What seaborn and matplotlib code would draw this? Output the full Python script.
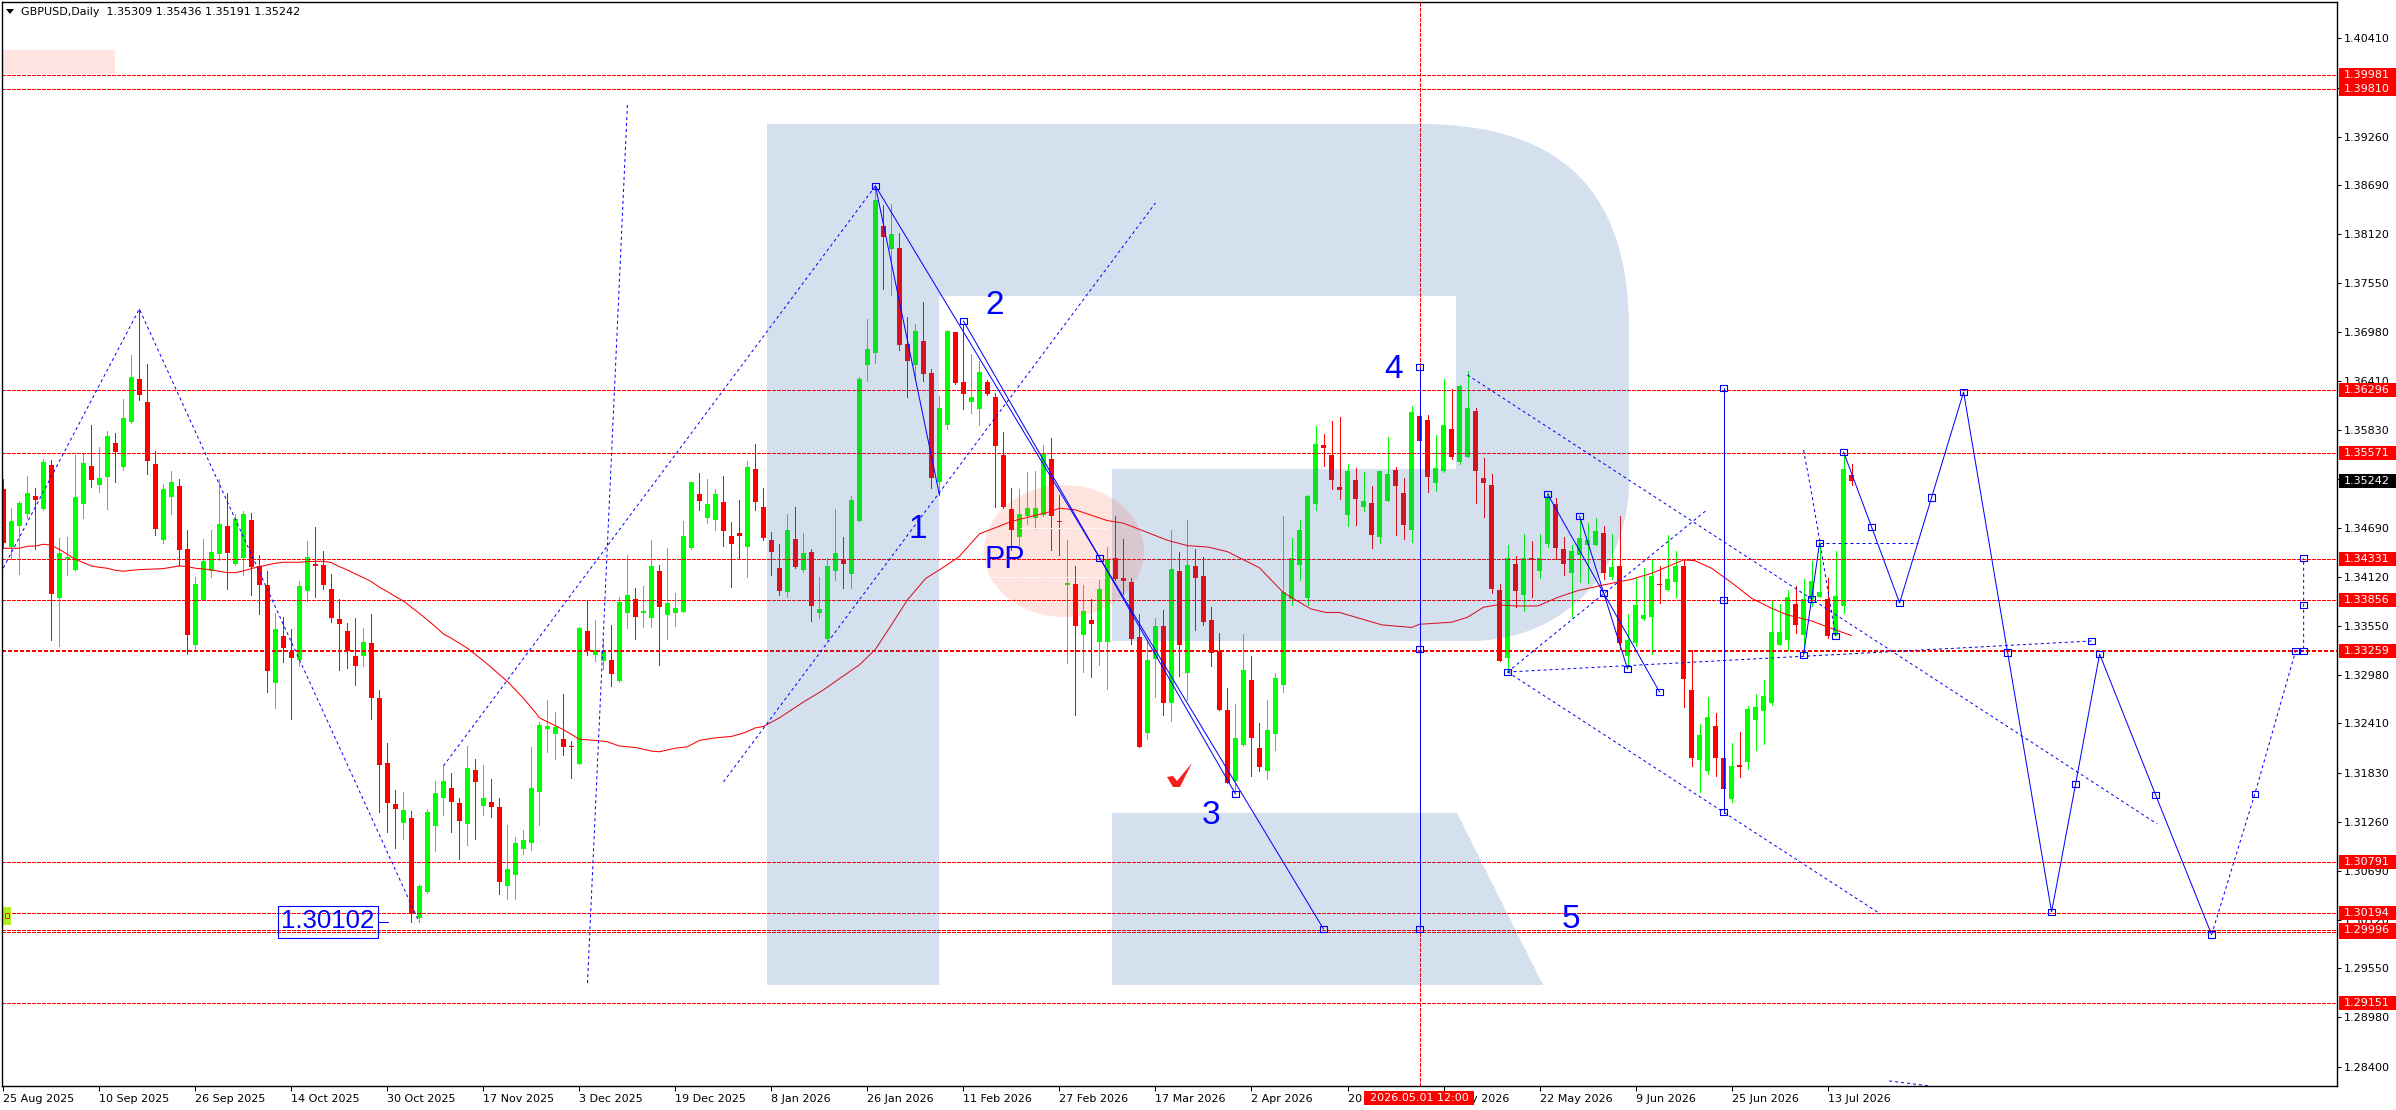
"""
GBPUSD daily chart with levels and forecast wave paths.
"""

import matplotlib
matplotlib.use("Agg")
import matplotlib.pyplot as plt
import numpy as np
import pandas as pd
import seaborn as sns
from matplotlib.patches import Ellipse, PathPatch, Polygon, Rectangle
from matplotlib.path import Path
from matplotlib.transforms import Affine2D

opens = [
    1.35146, 1.34473, 1.34715, 1.34855, 1.35065, 1.34913, 1.35426, 1.33874, 1.34329, 1.34201,
    1.34971, 1.35415, 1.35193, 1.35286, 1.35683, 1.35403, 1.35932, 1.36428, 1.36161, 1.35438,
    1.34551, 1.35053, 1.35181, 1.34446, 1.33326, 1.33851, 1.34189, 1.34388, 1.34715, 1.34271,
    1.34341, 1.34785, 1.34248, 1.34026, 1.32882, 1.33431, 1.33248, 1.33151, 1.33956, 1.34271,
    1.34259, 1.33979, 1.33629, 1.33489, 1.33197, 1.33197, 1.33349, 1.32707, 1.31949, 1.31470,
    1.31249, 1.31307, 1.30133, 1.30443, 1.31214, 1.31540, 1.31657, 1.31482, 1.31237, 1.31862,
    1.31446, 1.31491, 1.31433, 1.30512, 1.30645, 1.30950, 1.31016, 1.31608, 1.32350, 1.32292,
    1.32229, 1.32146, 1.31942, 1.33490, 1.33210, 1.33140, 1.33151, 1.32906, 1.33700, 1.33863,
    1.33700, 1.33642, 1.34190, 1.33677, 1.33700, 1.33712, 1.34458, 1.35089, 1.34809, 1.34785,
    1.34995, 1.34598, 1.34633, 1.34470, 1.35380, 1.34937, 1.34552, 1.34225, 1.33945, 1.34563,
    1.34202, 1.34412, 1.33700, 1.33396, 1.34190, 1.34330, 1.34155, 1.34774, 1.36594, 1.36734,
    1.38216, 1.37948, 1.37959, 1.36839, 1.36594, 1.36874, 1.36501, 1.35229, 1.35894, 1.36977,
    1.36395, 1.36166, 1.36080, 1.36395, 1.36220, 1.35543, 1.34913, 1.34586, 1.34831, 1.34808,
    1.34843, 1.35497, 1.34773, 1.34026, 1.34038, 1.33443, 1.33618, 1.33361, 1.33361, 1.34341,
    1.34108, 1.34061, 1.33419, 1.32299, 1.33163, 1.33548, 1.32649, 1.34190, 1.32999, 1.34248,
    1.34131, 1.33618, 1.33256, 1.32567, 1.31739, 1.32159, 1.32918, 1.32124, 1.31856, 1.32287,
    1.32859, 1.33863, 1.34260, 1.33875, 1.34972, 1.35660, 1.35543, 1.35170, 1.34843, 1.35252,
    1.34937, 1.34983, 1.34586, 1.35007, 1.35368, 1.35100, 1.34668, 1.35998, 1.35952, 1.35217,
    1.35357, 1.35847, 1.35462, 1.35520, 1.36057, 1.35275, 1.35193, 1.33968, 1.33174, 1.34271,
    1.33910, 1.34341, 1.34190, 1.34505, 1.34972, 1.34446, 1.34166, 1.34376, 1.34493, 1.34493,
    1.34633, 1.34120, 1.34248, 1.33198, 1.33349, 1.33629, 1.33653, 1.34038, 1.33968, 1.34061,
    1.34248, 1.32801, 1.31984, 1.31856, 1.32381, 1.32007, 1.31529, 1.31926, 1.31961, 1.32451,
    1.32556, 1.32649, 1.33326, 1.33384, 1.33805, 1.33443, 1.33863, 1.33886, 1.33863, 1.33443,
    1.33781, 1.35309,
]
highs = [
    1.35263, 1.34929, 1.35006, 1.35298, 1.35158, 1.35493, 1.35485, 1.34575, 1.34586, 1.35543,
    1.35563, 1.35893, 1.35637, 1.35823, 1.35800, 1.36197, 1.36715, 1.37249, 1.36603, 1.35590,
    1.35205, 1.35356, 1.35263, 1.34668, 1.34119, 1.34563, 1.34668, 1.35263, 1.35100, 1.34855,
    1.34890, 1.34866, 1.34376, 1.34189, 1.33699, 1.33653, 1.33513, 1.34073, 1.34540, 1.34703,
    1.34423, 1.34154, 1.33863, 1.33583, 1.33641, 1.33524, 1.33688, 1.32801, 1.32182, 1.31634,
    1.31610, 1.31389, 1.30525, 1.31408, 1.31739, 1.31914, 1.31832, 1.31540, 1.32147, 1.31992,
    1.31925, 1.31762, 1.31541, 1.31229, 1.31087, 1.31166, 1.32129, 1.32421, 1.32683, 1.32538,
    1.32754, 1.32204, 1.33540, 1.33852, 1.33618, 1.33385, 1.33560, 1.33890, 1.34377, 1.33992,
    1.34015, 1.34552, 1.34260, 1.34458, 1.33933, 1.34774, 1.35229, 1.35334, 1.35264, 1.35147,
    1.35299, 1.34762, 1.35019, 1.35474, 1.35672, 1.35159, 1.34645, 1.34505, 1.34855, 1.34937,
    1.34633, 1.34447, 1.34120, 1.34342, 1.34914, 1.34587, 1.35065, 1.36454, 1.37131, 1.38675,
    1.38461, 1.38473, 1.38134, 1.37154, 1.37073, 1.37329, 1.36547, 1.36232, 1.36998, 1.36977,
    1.37061, 1.36719, 1.36644, 1.36415, 1.36269, 1.35812, 1.35158, 1.35147, 1.35345, 1.35357,
    1.35660, 1.35742, 1.35077, 1.34551, 1.34248, 1.34026, 1.33863, 1.34085, 1.34470, 1.34831,
    1.34563, 1.34108, 1.33688, 1.33384, 1.33641, 1.33734, 1.34668, 1.34411, 1.34785, 1.34446,
    1.34353, 1.33770, 1.33466, 1.32824, 1.32638, 1.33454, 1.33198, 1.32416, 1.32684, 1.32999,
    1.34831, 1.34575, 1.34785, 1.35077, 1.35882, 1.35788, 1.35940, 1.35987, 1.35438, 1.35392,
    1.35345, 1.35182, 1.35357, 1.35753, 1.35403, 1.35275, 1.36115, 1.36030, 1.36010, 1.35777,
    1.36430, 1.36314, 1.36360, 1.36524, 1.36092, 1.35508, 1.35322, 1.34038, 1.34493, 1.34365,
    1.34621, 1.34540, 1.34621, 1.35096, 1.35042, 1.34586, 1.34493, 1.34808, 1.34750, 1.34808,
    1.34715, 1.34621, 1.34831, 1.33688, 1.34108, 1.34225, 1.34330, 1.34248, 1.34610, 1.34423,
    1.34318, 1.33268, 1.32404, 1.32719, 1.32532, 1.32007, 1.32182, 1.32311, 1.32614, 1.32754,
    1.32918, 1.33840, 1.33805, 1.33968, 1.34015, 1.34096, 1.34306, 1.34512, 1.34108, 1.34423,
    1.35543, 1.35436,
]
lows = [
    1.34454, 1.34326, 1.34154, 1.34804, 1.34446, 1.34901, 1.33384, 1.33314, 1.34143, 1.34201,
    1.34808, 1.35166, 1.35111, 1.34913, 1.35228, 1.35368, 1.35913, 1.36186, 1.35321, 1.34610,
    1.34516, 1.34855, 1.34259, 1.33221, 1.33267, 1.33851, 1.34119, 1.34318, 1.33979, 1.34259,
    1.34143, 1.33909, 1.33688, 1.32777, 1.32591, 1.33127, 1.32462, 1.33081, 1.33839, 1.33886,
    1.33979, 1.33594, 1.33034, 1.33057, 1.32859, 1.33081, 1.32462, 1.31377, 1.31144, 1.30957,
    1.31062, 1.30087, 1.30102, 1.30432, 1.30922, 1.31342, 1.31144, 1.30828, 1.30992, 1.31062,
    1.31341, 1.31316, 1.30420, 1.30362, 1.30362, 1.30891, 1.30933, 1.31225, 1.32075, 1.31996,
    1.32042, 1.31775, 1.31942, 1.33210, 1.33140, 1.33046, 1.32848, 1.32895, 1.33525, 1.33396,
    1.33537, 1.33537, 1.33093, 1.33396, 1.33548, 1.33712, 1.34447, 1.34902, 1.34750, 1.34668,
    1.34482, 1.34003, 1.34330, 1.34120, 1.34902, 1.34552, 1.34143, 1.33910, 1.33887, 1.34225,
    1.34178, 1.33607, 1.33642, 1.33385, 1.34085, 1.33992, 1.33992, 1.34774, 1.36407, 1.36617,
    1.37481, 1.37411, 1.36769, 1.36221, 1.36419, 1.36407, 1.35159, 1.35077, 1.35844, 1.36373,
    1.36080, 1.36033, 1.35893, 1.36244, 1.34937, 1.34925, 1.34435, 1.34493, 1.34738, 1.34680,
    1.34831, 1.34435, 1.34376, 1.33116, 1.32509, 1.33011, 1.32953, 1.33093, 1.32813, 1.34085,
    1.33921, 1.33338, 1.32136, 1.32229, 1.32719, 1.32509, 1.32439, 1.32964, 1.32684, 1.33501,
    1.33559, 1.33081, 1.32567, 1.31712, 1.31595, 1.32147, 1.31797, 1.31856, 1.31762, 1.32101,
    1.32778, 1.33793, 1.34085, 1.33793, 1.34901, 1.35415, 1.35147, 1.35030, 1.34715, 1.34726,
    1.34890, 1.34458, 1.34520, 1.35007, 1.34610, 1.34563, 1.34528, 1.35707, 1.35112, 1.35123,
    1.35345, 1.35497, 1.35438, 1.35520, 1.34983, 1.34820, 1.33933, 1.33139, 1.33034, 1.33770,
    1.33723, 1.33886, 1.34108, 1.34470, 1.34330, 1.34143, 1.33653, 1.34061, 1.34050, 1.34493,
    1.34096, 1.34096, 1.33279, 1.33073, 1.33314, 1.33618, 1.33221, 1.33816, 1.33968, 1.33886,
    1.32603, 1.31914, 1.31611, 1.31821, 1.31797, 1.31362, 1.31494, 1.31786, 1.31879, 1.32101,
    1.32171, 1.32626, 1.33326, 1.33268, 1.33466, 1.33229, 1.33781, 1.33886, 1.33408, 1.33443,
    1.33699, 1.35191,
]
closes = [
    1.34512, 1.34773, 1.34983, 1.35100, 1.35018, 1.35461, 1.33921, 1.34399, 1.34353, 1.35053,
    1.35450, 1.35251, 1.35275, 1.35765, 1.35578, 1.35975, 1.36453, 1.36248, 1.35473, 1.34680,
    1.35146, 1.35228, 1.34434, 1.33443, 1.34038, 1.34306, 1.34411, 1.34738, 1.34399, 1.34796,
    1.34855, 1.34236, 1.34026, 1.33022, 1.33513, 1.33291, 1.33174, 1.34014, 1.34353, 1.34248,
    1.34026, 1.33641, 1.33571, 1.33256, 1.33081, 1.33361, 1.32707, 1.31925, 1.31482, 1.31412,
    1.31400, 1.30183, 1.30513, 1.31377, 1.31599, 1.31739, 1.31494, 1.31272, 1.31890, 1.31725,
    1.31541, 1.31433, 1.30558, 1.30712, 1.31016, 1.31050, 1.31658, 1.32392, 1.32375, 1.32367,
    1.32129, 1.32129, 1.33525, 1.33256, 1.33268, 1.33256, 1.32988, 1.33828, 1.33910, 1.33653,
    1.33723, 1.34248, 1.33770, 1.33817, 1.33758, 1.34598, 1.35229, 1.35007, 1.34972, 1.35089,
    1.34657, 1.34505, 1.34598, 1.35404, 1.34995, 1.34575, 1.34412, 1.33957, 1.34668, 1.34237,
    1.34400, 1.33782, 1.33747, 1.34248, 1.34400, 1.34272, 1.35019, 1.36431, 1.36781, 1.38520,
    1.38088, 1.38123, 1.36827, 1.36641, 1.36991, 1.36489, 1.35275, 1.36092, 1.36990, 1.36381,
    1.36259, 1.36220, 1.36512, 1.36255, 1.35648, 1.34937, 1.34668, 1.34855, 1.34925, 1.34925,
    1.35567, 1.34831, 1.34761, 1.34050, 1.33548, 1.33723, 1.33571, 1.33980, 1.34330, 1.34096,
    1.34073, 1.33396, 1.32136, 1.33151, 1.33548, 1.32649, 1.34213, 1.33326, 1.34260, 1.34108,
    1.33594, 1.33233, 1.32567, 1.31712, 1.32241, 1.33034, 1.32241, 1.31902, 1.32334, 1.32941,
    1.33945, 1.34341, 1.34668, 1.35065, 1.35672, 1.35625, 1.35252, 1.35135, 1.35357, 1.35030,
    1.35007, 1.34610, 1.35357, 1.35322, 1.35182, 1.34726, 1.36045, 1.35707, 1.35287, 1.35392,
    1.35893, 1.35520, 1.36349, 1.36092, 1.35357, 1.35217, 1.33980, 1.33139, 1.34341, 1.33956,
    1.34341, 1.34318, 1.34341, 1.35065, 1.34458, 1.34271, 1.34423, 1.34575, 1.34551, 1.34656,
    1.34166, 1.34236, 1.33349, 1.33384, 1.33793, 1.33676, 1.34131, 1.34026, 1.34096, 1.34248,
    1.32929, 1.32007, 1.32276, 1.32486, 1.32007, 1.31646, 1.31914, 1.31902, 1.32579, 1.32603,
    1.32731, 1.33478, 1.33478, 1.33886, 1.33559, 1.33863, 1.34073, 1.33945, 1.33431, 1.33898,
    1.35380, 1.35242,
]

ma_bars = [
    0, 2, 3, 4, 5, 6, 7, 8, 9, 10, 11, 12, 13, 14, 15, 16, 17, 18, 20, 21, 22, 23, 24, 25, 26, 27, 28,
    29, 30, 31, 32, 33, 34, 35, 37, 38, 39, 40, 41, 42, 43, 44, 45, 46, 47, 48, 49, 50, 51, 52, 53, 54,
    55, 56, 57, 58, 60, 63, 65, 66.5, 67, 70, 72, 74, 75.5, 77, 79, 81, 82, 84, 85.5, 87, 89, 91, 92.7,
    94, 95, 97, 100, 102.5, 106, 107, 109, 111, 113, 115.3, 117, 119.4, 122, 126, 131, 132, 134, 138,
    140, 145.5, 148, 150.6, 153, 157, 160, 163.4, 165.3, 167, 172.3, 176, 177, 181, 183, 185, 186.7,
    189, 191.8, 194.3, 196.8, 200, 203.5, 206, 208.5, 210, 211.4, 213.5, 216, 218.5, 221, 223, 226,
    229, 231,
]
ma_values = [
    1.34454, 1.34454, 1.34477, 1.34481, 1.34501, 1.34489, 1.34442, 1.34384, 1.34326, 1.34287, 1.34248,
    1.34232, 1.34221, 1.34197, 1.34186, 1.34197, 1.34205, 1.34209, 1.34217, 1.34232, 1.34248, 1.34240,
    1.34221, 1.34213, 1.34201, 1.34186, 1.34170, 1.34170, 1.34189, 1.34217, 1.34240, 1.34259, 1.34279,
    1.34291, 1.34291, 1.34298, 1.34302, 1.34302, 1.34287, 1.34240, 1.34201, 1.34154, 1.34112, 1.34065,
    1.33999, 1.33948, 1.33890, 1.33839, 1.33765, 1.33695, 1.33618, 1.33540, 1.33454, 1.33404, 1.33345,
    1.33287, 1.33142, 1.32900, 1.32704, 1.32538, 1.32475, 1.32337, 1.32225, 1.32212, 1.32196, 1.32146,
    1.32129, 1.32087, 1.32079, 1.32121, 1.32137, 1.32212, 1.32242, 1.32258, 1.32304, 1.32358, 1.32375,
    1.32475, 1.32660, 1.32801, 1.33030, 1.33093, 1.33276, 1.33560, 1.33852, 1.34104, 1.34202, 1.34351,
    1.34622, 1.34768, 1.34885, 1.34923, 1.34902, 1.34777, 1.34747, 1.34547, 1.34485, 1.34468, 1.34414,
    1.34226, 1.33935, 1.33747, 1.33705, 1.33705, 1.33560, 1.33530, 1.33567, 1.33591, 1.33649, 1.33766,
    1.33793, 1.33781, 1.33781, 1.33882, 1.33960, 1.34026, 1.34092, 1.34162, 1.34260, 1.34318, 1.34310,
    1.34221, 1.34053, 1.33871, 1.33754, 1.33676, 1.33606, 1.33501, 1.33435,
]

# red levels: value, label
level_values = [1.39981, 1.39810, 1.36296, 1.35571, 1.34331, 1.33856, 1.33259, 1.30791, 1.30194,
                1.29978, 1.29996, 1.29151]
level_labels = ["1.39981", "1.39810", "1.36296", "1.35571", "1.34331", "1.33856", "1.33259", "1.30791",
                "1.30194", "", "1.29996", "1.29151"]
last_price = 1.35242

price_ticks = [1.40410, 1.39830, 1.39260, 1.38690, 1.38120, 1.37550, 1.36980, 1.36410, 1.35830, 1.35260,
               1.34690, 1.34120, 1.33550, 1.32980, 1.32410, 1.31830, 1.31260, 1.30690, 1.30120, 1.29550,
               1.28980, 1.28400]
date_labels = ["25 Aug 2025", "10 Sep 2025", "26 Sep 2025", "14 Oct 2025", "30 Oct 2025", "17 Nov 2025",
               "3 Dec 2025", "19 Dec 2025", "8 Jan 2026", "26 Jan 2026", "11 Feb 2026", "27 Feb 2026",
               "17 Mar 2026", "2 Apr 2026", "20 Apr 2026", "6 May 2026", "22 May 2026", "9 Jun 2026",
               "25 Jun 2026", "13 Jul 2026"]
date_step = 12
header = "GBPUSD,Daily  1.35309 1.35436 1.35191 1.35242"
cross_label = "2026.05.01 12:00"
cross_bar = 177
low_label = "1.30102"

# drawn wave lines: (bars, prices)
solid_paths = [
    ([109, 117], [1.38683, 1.35076]),
    ([109, 165], [1.38683, 1.30011]),
    ([120, 154], [1.37107, 1.31587]),
    ([177, 177], [1.36570, 1.30011]),
    ([215, 215], [1.36325, 1.31376]),
    ([193, 207], [1.35088, 1.32777]),
    ([197, 203], [1.34831, 1.33045]),
    ([225, 227], [1.33209, 1.34516]),
    ([230, 233.5, 237, 241, 245, 250.5, 256, 259, 262, 269, 276],
     [1.35578, 1.34703, 1.33816, 1.35047, 1.36278, 1.33238, 1.30209, 1.31703, 1.33220, 1.31575, 1.29945]),
]
dashed_paths = [
    ([0, 17, 52], [1.34224, 1.37247, 1.30087]),
    ([55, 109], [1.31913, 1.38683]),
    ([78, 73], [1.39628, 1.29357]),
    ([90, 144], [1.31727, 1.38484]),
    ([183, 269.2], [1.36477, 1.31236]),
    ([188, 234.6], [1.33010, 1.30186]),
    ([188, 212.9], [1.33010, 1.34901]),
    ([188, 261], [1.33010, 1.33372]),
    ([227, 239.3], [1.34516, 1.34516]),
    ([225, 226, 227, 228, 229], [1.35601, 1.35100, 1.34551, 1.33984, 1.33430]),
    ([276, 281.4, 286.5, 287.5, 287.5, 287.5], [1.29945, 1.31587, 1.33256, 1.33256, 1.33792, 1.34341]),
    ([235.7, 240.8], [1.28237, 1.28178]),
]
node_bars = [109, 120, 137, 154, 165, 177, 177, 177, 215, 215, 215, 193, 200, 207, 197, 203, 225, 226, 227,
             229, 230, 233.5, 237, 241, 245, 250.5, 256, 259, 262, 269, 276, 281.4, 286.5, 287.5, 287.5,
             287.5, 261, 188]
node_prices = [1.38683, 1.37107, 1.34341, 1.31587, 1.30011, 1.36570, 1.33279, 1.30011, 1.36325, 1.33851,
               1.31376, 1.35088, 1.33932, 1.32777, 1.34831, 1.33045, 1.33209, 1.33862, 1.34516, 1.33430,
               1.35578, 1.34703, 1.33816, 1.35047, 1.36278, 1.33238, 1.30209, 1.31703, 1.33220, 1.31575,
               1.29945, 1.31587, 1.33256, 1.33256, 1.33792, 1.34341, 1.33372, 1.33010]

RED = "#ff0000"
GREEN = "#00ff00"
BLUE = "#0000ff"

W, H = 2396, 1110
sns.set_theme(style="white")
plt.rcParams["font.family"] = ["DejaVu Sans"]

fig = plt.figure(figsize=(W / 100, H / 100), dpi=100, facecolor="white")
ax = fig.add_axes([2 / W, 1 - 1086 / H, 2335 / W, 1084 / H])
# reference image pixels, y down
px = Affine2D().scale(1, -1).translate(0, H)

candles = pd.DataFrame({"open": opens, "high": highs, "low": lows, "close": closes})
candles["bar"] = np.arange(len(candles))
candles["up"] = candles["close"] >= candles["open"]
candles["top"] = candles[["open", "close"]].max(axis=1)
candles["bottom"] = candles[["open", "close"]].min(axis=1)

for up, color in [(True, GREEN), (False, RED)]:
    part = candles[candles["up"] == up]
    ax.vlines(part["bar"], part["low"], part["high"], color=color, lw=0.72, zorder=2, antialiased=False)
    ax.bar(part["bar"], (part["top"] - part["bottom"]).clip(lower=0.00012), bottom=part["bottom"],
           width=0.625, color=color, linewidth=0, zorder=2.1, antialiased=False)

# moving average
sns.lineplot(x=ma_bars, y=ma_values, ax=ax, color=RED, lw=0.75, sort=False, estimator=None, zorder=2.3)

# levels
for value in level_values:
    thick = value == 1.33259
    ax.axhline(value, color=RED, lw=1.6 if thick else 0.72, zorder=2.2, antialiased=False,
               linestyle=(0, (1.4, 1.0)) if thick else (0, (4, 2)))
ax.axvline(cross_bar, color=RED, lw=0.72, linestyle=(0, (4, 2)), zorder=2.2, antialiased=False)

# logo in the back of the drawing tools
logo_verts = [
    (767, 124), (1420, 124), (1575, 124), (1629, 205), (1629, 330), (1629, 480), (1629, 575), (1560, 641),
    (1470, 641), (1112, 641), (1112, 469), (1456, 469), (1456, 296), (939, 296), (939, 985), (767, 985),
    (767, 124),
    (1112, 813), (1457, 813), (1543, 985), (1112, 985), (1112, 813),
]
logo_codes = [
    Path.MOVETO, Path.LINETO, Path.CURVE4, Path.CURVE4, Path.CURVE4, Path.LINETO, Path.CURVE4, Path.CURVE4,
    Path.CURVE4, Path.LINETO, Path.LINETO, Path.LINETO, Path.LINETO, Path.LINETO, Path.LINETO, Path.LINETO,
    Path.CLOSEPOLY,
    Path.MOVETO, Path.LINETO, Path.LINETO, Path.LINETO, Path.CLOSEPOLY,
]
ax.add_patch(PathPatch(Path(logo_verts, logo_codes), transform=px, facecolor=(0.176, 0.392, 0.686, 0.2),
                       edgecolor="none", zorder=3, clip_on=False))
ax.add_patch(Ellipse((1064, 551), 160, 132, transform=px, facecolor=(1, 0.235, 0.118, 0.14),
                     edgecolor="none", zorder=3.1))
for y_px, x0, x1 in [(528, 1020, 1107), (577, 993, 1107)]:
    ax.plot([x0, x1], [y_px, y_px], transform=px, color="white", lw=0.72, linestyle=(0, (4, 2)), zorder=3.2)
ax.add_patch(Rectangle((2.5, 50), 112.5, 24, transform=px, facecolor="#ffe4e1", edgecolor="none", zorder=1))
ax.add_patch(Rectangle((3, 907), 8, 18, transform=px, facecolor="#b4f01e", edgecolor="none", zorder=3.3))
ax.add_patch(Rectangle((5, 913), 4, 5, transform=px, facecolor="none", edgecolor=RED, lw=0.6, zorder=3.4))
ax.add_patch(Polygon([(1167, 777), (1173, 776), (1177, 781), (1192, 763), (1180, 787), (1173, 787)],
                     transform=px, facecolor="#f5201c", edgecolor="none", zorder=4))

# wave lines
for bars, prices in solid_paths:
    sns.lineplot(x=bars, y=prices, ax=ax, color=BLUE, lw=0.72, sort=False, estimator=None, zorder=4)
for bars, prices in dashed_paths:
    sns.lineplot(x=bars, y=prices, ax=ax, color=BLUE, lw=0.72, sort=False, estimator=None, zorder=4,
                 linestyle=(0, (3, 3)))
sns.scatterplot(x=node_bars, y=node_prices, ax=ax, marker="s", s=22, facecolor="none", edgecolor=BLUE,
                linewidth=0.8, zorder=4.2)

# wave captions
caption_font = dict(family="Liberation Sans", color=BLUE, ha="center", va="center", transform=px, zorder=5)
for label, x_px, y_px, size in [("1", 918, 530, 24), ("2", 995, 305, 24), ("3", 1211, 816, 24),
                                ("4", 1394, 369, 24), ("5", 1571, 920, 24), ("PP", 1005, 560, 22)]:
    ax.text(x_px, y_px, label, fontsize=size, **caption_font)
ax.text(327.5, 921, low_label, fontsize=18.5, **caption_font)
ax.add_patch(Rectangle((277.5, 906), 100, 32, transform=px, facecolor="none", edgecolor=BLUE, lw=0.8, zorder=5))
ax.plot([377.5, 388], [922, 922], transform=px, color=BLUE, lw=0.72, zorder=5)

# header
ax.add_patch(Polygon([(6, 9), (14, 9), (10, 14)], transform=px, facecolor="black", edgecolor="none", zorder=5))
ax.text(21, 12, header, fontsize=8, color="black", ha="left", va="center", transform=px, zorder=5)

# axes
ax.set_xlim(-0.166, 291.67)
ax.set_ylim(1.28178, 1.40830)
ax.yaxis.tick_right()
ax.set_yticks(price_ticks)
ax.set_yticklabels([f"{v:.5f}" for v in price_ticks], fontsize=8, color="black")
ax.set_xticks(np.arange(len(date_labels)) * date_step)
ax.set_xticklabels(date_labels, fontsize=8, color="black", ha="left")
ax.tick_params(axis="x", direction="out", length=3.6, width=0.72, pad=2, color="black",
               bottom=True, top=False)
ax.tick_params(axis="y", direction="out", length=2.6, width=0.72, pad=2.2, color="black",
               right=True, left=False)
ax.set_xlabel("")
ax.set_ylabel("")
for spine in ax.spines.values():
    spine.set_color("black")
    spine.set_linewidth(1.0)
    spine.set_zorder(6)
ax.grid(False)


def price_to_px(value):
    return H - ax.transData.transform((0, value))[1]


def side_label(value, label, face, height=14):
    y_px = price_to_px(value)
    ax.add_patch(Rectangle((2339, y_px - height / 2), 57, height, transform=px, facecolor=face,
                           edgecolor="none", zorder=10, clip_on=False))
    if label:
        ax.text(2344, y_px, label, fontsize=8, color="white", ha="left", va="center", transform=px,
                zorder=11, clip_on=False)


for value, label in zip(level_values, level_labels):
    side_label(value, label, RED)
side_label(last_price, f"{last_price:.5f}", "black")

# time label of the crosshair
ax.add_patch(Rectangle((1364, 1091), 110, 14, transform=px, facecolor=RED, edgecolor="none", zorder=10,
                       clip_on=False))
ax.text(1419, 1098, cross_label, fontsize=8, color="white", ha="center", va="center", transform=px,
        zorder=11, clip_on=False)

fig.savefig("out.png", dpi=100, facecolor="white")
